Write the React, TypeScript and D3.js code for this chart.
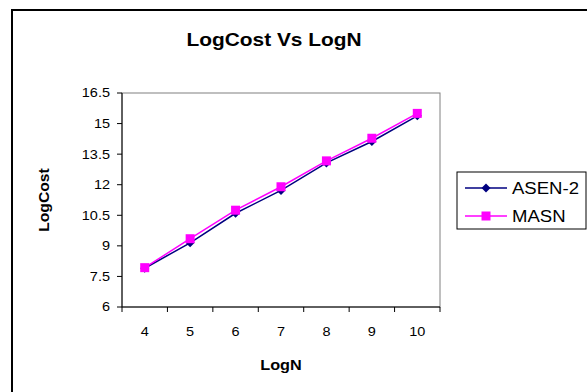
import React from "react";
import * as d3 from "d3";

// LogN categories and LogCost values for each series
const logN = ["4", "5", "6", "7", "8", "9", "10"];
const asen2 = [7.9, 9.15, 10.6, 11.72, 13.07, 14.12, 15.38];
const masn = [7.93, 9.35, 10.75, 11.9, 13.17, 14.28, 15.5];
const yTicks = [6, 7.5, 9, 10.5, 12, 13.5, 15, 16.5];
const seriesNames = ["ASEN-2", "MASN"];

const W = 587;
const H = 392;
const plot = { left: 122, right: 440, top: 93, bottom: 307 };
const FONT = "'Liberation Sans', Arial, sans-serif";
const SX = 1.16; // text is drawn slightly wide

// text that is stretched horizontally around its anchor point
function WideText(props: {
  x: number;
  y: number;
  size: number;
  anchor?: "start" | "middle" | "end";
  bold?: boolean;
  children: React.ReactNode;
}) {
  const { x, y, size, anchor = "start", bold, children } = props;
  return (
    <text
      transform={`translate(${x},${y}) scale(${SX},1)`}
      textAnchor={anchor}
      dy="0.35em"
      fontSize={size}
      fontWeight={bold ? "bold" : "normal"}
    >
      {children}
    </text>
  );
}

export default function App() {
  const x = d3
    .scaleBand<string>()
    .domain(logN)
    .range([plot.left, plot.right])
    .paddingInner(0)
    .paddingOuter(0);
  const y = d3.scaleLinear().domain([6, 16.5]).range([plot.bottom, plot.top]);
  const cx = (i: number) => (x(logN[i]) as number) + x.bandwidth() / 2;

  const line = d3
    .line<number>()
    .x((_, i) => cx(i))
    .y((d) => y(d));

  const boundaries = logN.map((c) => x(c) as number).concat([plot.right]);

  const diamond = (px: number, py: number, r: number) =>
    `M${px},${py - r}L${px + r},${py}L${px},${py + r}L${px - r},${py}Z`;

  const navy = "#000080";
  const magenta = "#FF00FF";

  const legend = { x: 457, y: 172, w: 129, h: 57 };

  return (
    <svg
      width={W}
      height={H}
      style={{ position: "absolute", left: 0, top: 0, display: "block" }}
      fontFamily={FONT}
    >
      <rect x={0} y={0} width={W} height={H} fill="#fff" />
      {/* chart frame, running off the right and bottom edges */}
      <rect
        x={12}
        y={10}
        width={W}
        height={H}
        fill="none"
        stroke="#000"
        strokeWidth={2}
      />

      <WideText x={274} y={40} size={18} anchor="middle" bold>
        LogCost Vs LogN
      </WideText>

      {/* plot area border */}
      <rect
        x={plot.left}
        y={plot.top}
        width={plot.right - plot.left}
        height={plot.bottom - plot.top}
        fill="#fff"
        stroke="#808080"
        strokeWidth={1}
      />

      {/* y axis */}
      <line
        x1={plot.left}
        x2={plot.left}
        y1={plot.top}
        y2={plot.bottom}
        stroke="#000"
      />
      {yTicks.map((t) => (
        <g key={t}>
          <line
            x1={plot.left - 5}
            x2={plot.left}
            y1={y(t)}
            y2={y(t)}
            stroke="#000"
          />
          <WideText x={plot.left - 12} y={y(t)} size={12.5} anchor="end">
            {t}
          </WideText>
        </g>
      ))}

      {/* x axis */}
      <line
        x1={plot.left}
        x2={plot.right}
        y1={plot.bottom}
        y2={plot.bottom}
        stroke="#000"
      />
      {boundaries.map((b, i) => (
        <line
          key={i}
          x1={b}
          x2={b}
          y1={plot.bottom}
          y2={plot.bottom + 5}
          stroke="#000"
        />
      ))}
      {logN.map((c, i) => (
        <WideText key={c} x={cx(i)} y={plot.bottom + 25} size={12.5} anchor="middle">
          {c}
        </WideText>
      ))}

      <WideText x={(plot.left + plot.right) / 2} y={365} size={14} anchor="middle" bold>
        LogN
      </WideText>
      <text
        transform={`translate(44,${(plot.top + plot.bottom) / 2}) rotate(-90) scale(1.12,1)`}
        textAnchor="middle"
        dy="0.35em"
        fontSize={14}
        fontWeight="bold"
      >
        LogCost
      </text>

      {/* series */}
      <path d={line(asen2) || ""} fill="none" stroke={navy} strokeWidth={1.5} />
      {asen2.map((v, i) => (
        <path key={"a" + i} d={diamond(cx(i), y(v), 4.5)} fill={navy} />
      ))}
      <path d={line(masn) || ""} fill="none" stroke={magenta} strokeWidth={1.5} />
      {masn.map((v, i) => (
        <rect
          key={"m" + i}
          x={cx(i) - 4.5}
          y={y(v) - 4.5}
          width={9}
          height={9}
          fill={magenta}
        />
      ))}

      {/* legend */}
      <rect
        x={legend.x}
        y={legend.y}
        width={legend.w}
        height={legend.h}
        fill="#fff"
        stroke="#000"
      />
      <line x1={465} x2={507} y1={188} y2={188} stroke={navy} strokeWidth={1.5} />
      <path d={diamond(486, 188, 4.5)} fill={navy} />
      <WideText x={512} y={188} size={16}>
        {seriesNames[0]}
      </WideText>
      <line x1={465} x2={507} y1={216} y2={216} stroke={magenta} strokeWidth={1.5} />
      <rect x={481.5} y={211.5} width={9} height={9} fill={magenta} />
      <WideText x={512} y={216} size={16}>
        {seriesNames[1]}
      </WideText>
    </svg>
  );
}
